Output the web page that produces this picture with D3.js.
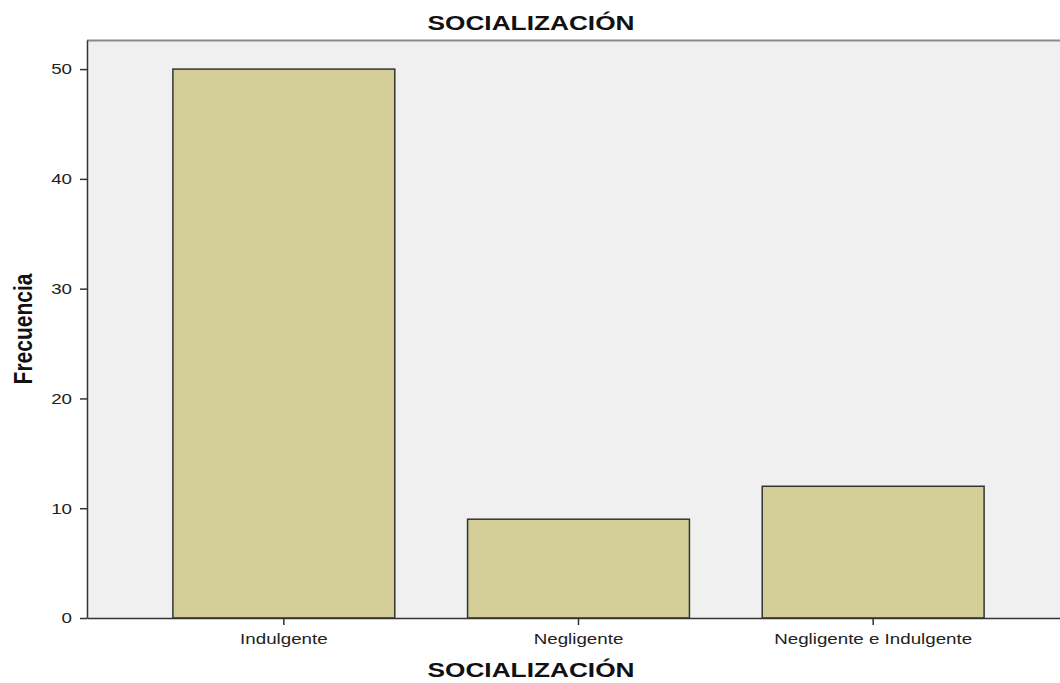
<!DOCTYPE html>
<html>
<head>
<meta charset="utf-8">
<script src="https://cdn.jsdelivr.net/npm/d3@7"></script>
<style>
  body { margin: 0; background: #fff; }
  text { font-family: Arial, "Liberation Sans", sans-serif; }
</style>
</head>
<body>
<svg id="chart" width="1060" height="683"></svg>
<script>
var categories = ["Indulgente", "Negligente", "Negligente e Indulgente"];
var counts = [50, 9, 12];
var yTicks = [0, 10, 20, 30, 40, 50];

// plot area (right edge runs past the picture, as in the reference)
var plotLeft = 87, plotRight = 1070, plotTop = 40, plotBottom = 618;
// the reference text is drawn a bit wide
var stretch = 1.25;

var svg = d3.select("#chart");

var x = d3.scaleBand()
  .domain(categories)
  .range([plotLeft, plotRight])
  .paddingInner(0.247)
  .paddingOuter(0.2915);

var y = d3.scaleLinear()
  .domain([0, 52.65])
  .range([plotBottom, plotTop]);

// plot background
svg.append("rect")
  .attr("x", plotLeft).attr("y", plotTop)
  .attr("width", plotRight - plotLeft).attr("height", plotBottom - plotTop)
  .attr("fill", "#f0f0f0");

// top border
svg.append("line")
  .attr("x1", plotLeft).attr("x2", plotRight)
  .attr("y1", plotTop + 0.5).attr("y2", plotTop + 0.5)
  .attr("stroke", "#8a8a8a").attr("stroke-width", 2);

// bars
svg.selectAll("rect.bar")
  .data(counts)
  .enter().append("rect")
  .attr("class", "bar")
  .attr("x", function(d, i) { return x(categories[i]); })
  .attr("y", function(d) { return y(d); })
  .attr("width", x.bandwidth())
  .attr("height", function(d) { return y(0) - y(d); })
  .attr("fill", "#d3ce97")
  .attr("stroke", "#333")
  .attr("stroke-width", 1.5);

// y axis
var yAxis = svg.append("g")
  .attr("transform", "translate(" + plotLeft + ",0)")
  .call(d3.axisLeft(y).tickValues(yTicks).tickSize(7).tickSizeOuter(0).tickPadding(5));
yAxis.select(".domain").attr("stroke", "#333").attr("stroke-width", 1.5);
yAxis.selectAll(".tick line").attr("stroke", "#333").attr("stroke-width", 1.5);
yAxis.selectAll("text")
  .attr("font-size", 15).attr("fill", "#222")
  .attr("transform", "scale(" + stretch + ",1)");

// x axis
var xAxis = svg.append("g")
  .attr("transform", "translate(0," + plotBottom + ")")
  .call(d3.axisBottom(x).tickSize(7).tickSizeOuter(0).tickPadding(8));
xAxis.select(".domain").attr("stroke", "#333").attr("stroke-width", 1.5);
xAxis.selectAll(".tick line").attr("stroke", "#333").attr("stroke-width", 1.5);
xAxis.selectAll("text")
  .attr("font-size", 15).attr("fill", "#222")
  .attr("transform", "scale(" + stretch + ",1)");

// titles
svg.append("text")
  .attr("transform", "translate(531,30) scale(" + stretch + ",1)")
  .attr("text-anchor", "middle")
  .attr("font-size", 21).attr("font-weight", "bold").attr("fill", "#111")
  .text("SOCIALIZACIÓN");

svg.append("text")
  .attr("transform", "translate(531,677) scale(" + stretch + ",1)")
  .attr("text-anchor", "middle")
  .attr("font-size", 21).attr("font-weight", "bold").attr("fill", "#111")
  .text("SOCIALIZACIÓN");

svg.append("text")
  .attr("transform", "translate(32,329) scale(" + stretch + ",1) rotate(-90)")
  .attr("text-anchor", "middle")
  .attr("font-size", 21).attr("font-weight", "bold").attr("fill", "#111")
  .text("Frecuencia");
</script>
</body>
</html>
